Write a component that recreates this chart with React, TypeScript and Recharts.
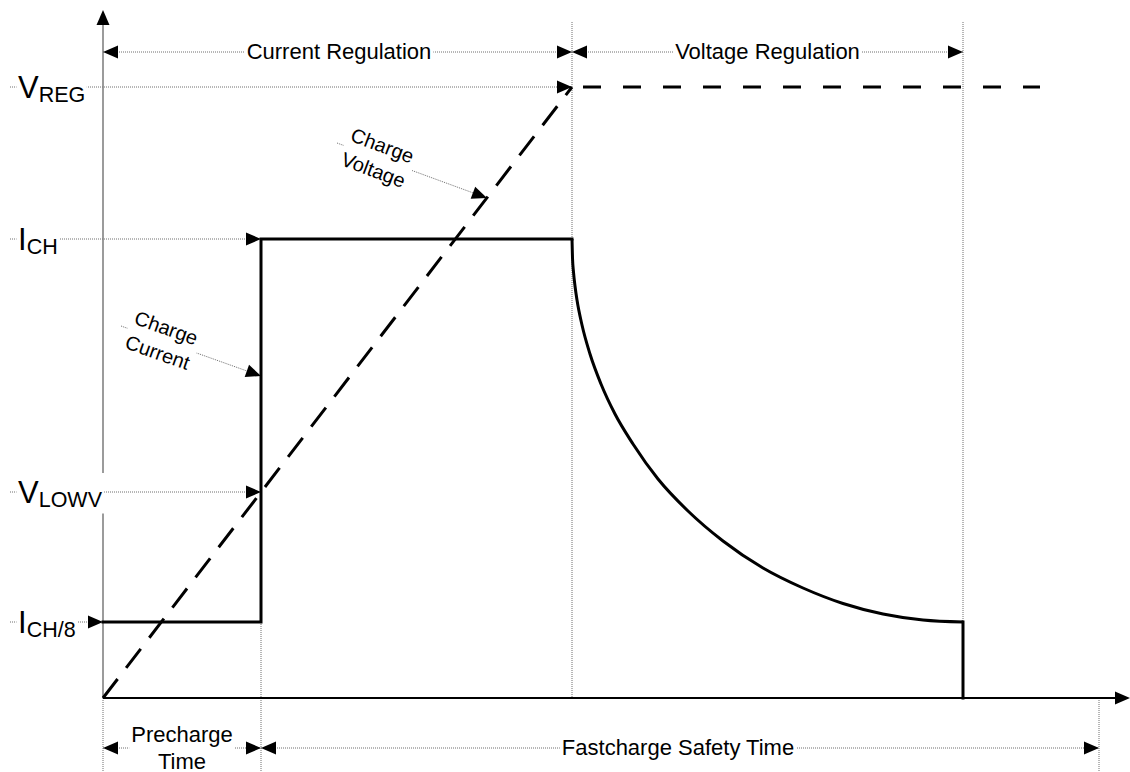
import React, { useLayoutEffect, useRef, useState } from 'react';
import { ComposedChart, Line, XAxis, YAxis, ReferenceLine, Scatter } from 'recharts';

// ---- time marks (arbitrary time units, charge starts at 0) ----
const T_PRECHARGE = 15.8;
const T_CV = 46.9;
const T_TERM = 86.0;
const T_SAFETY = 99.6;
const T_VREG_END = 93.7;

// ---- levels (arbitrary units) ----
const V_REG = 61.1;
const I_CH = 45.9;
const V_LOWV = 20.6;
const I_CH8 = 7.6;

// ---- annotation rows ----
const ROW_TOP = 64.6;
const ROW_BOTTOM = -5.0;
const GUIDE_TOP = 67.6;
const FLOOR = -7.4;
const LEVEL_GUIDE_START = -9.3;
const LEVEL_LABEL_T = -8.5;

const X_DOMAIN: [number, number] = [-10.3, 102.7];
const Y_DOMAIN: [number, number] = [-7.4, 69.8];

// ---- series ----
const currentStep = [
  { t: 0, v: I_CH8 },
  { t: T_PRECHARGE, v: I_CH8 },
  { t: T_PRECHARGE, v: I_CH },
  { t: T_CV, v: I_CH },
];
const taperTimes = [46.9, 46.95, 47.05, 47.2, 47.4, 47.9, 48.7, 49.8, 51.2, 53.0, 55.5, 58.5, 62.0, 66.0, 70.0, 74.0, 78.0, 82.0, 86.0];
const taperCurrent = [45.9, 44.0, 42.6, 41.2, 39.8, 37.3, 34.4, 31.4, 28.4, 25.4, 21.9, 18.7, 15.7, 13.0, 11.0, 9.45, 8.4, 7.8, 7.6];
const currentTaper = taperTimes.map((t, i) => ({ t, v: taperCurrent[i] }));
const currentOff = [
  { t: T_TERM, v: I_CH8 },
  { t: T_TERM, v: 0 },
];
const voltageRamp = [
  { t: 0, v: 0 },
  { t: T_CV, v: V_REG },
];
const voltageHold = [
  { t: T_CV, v: V_REG },
  { t: T_VREG_END, v: V_REG },
];

// ---- axes ----
const axisY = [{ x: 0, y: 0 }, { x: 0, y: 68 }];
const axisX = [{ x: 0, y: 0 }, { x: 101.3, y: 0 }];

// ---- dotted guides ----
const guides = [
  [{ x: 0, y: ROW_TOP }, { x: T_CV, y: ROW_TOP }],
  [{ x: T_CV, y: ROW_TOP }, { x: T_TERM, y: ROW_TOP }],
  [{ x: T_CV, y: GUIDE_TOP }, { x: T_CV, y: 0 }],
  [{ x: T_TERM, y: GUIDE_TOP }, { x: T_TERM, y: I_CH8 }],
  [{ x: T_PRECHARGE, y: I_CH8 }, { x: T_PRECHARGE, y: FLOOR }],
  [{ x: 0, y: 0 }, { x: 0, y: FLOOR }],
  [{ x: T_SAFETY, y: 0 }, { x: T_SAFETY, y: FLOOR }],
  [{ x: LEVEL_GUIDE_START, y: V_REG }, { x: T_CV, y: V_REG }],
  [{ x: LEVEL_GUIDE_START, y: I_CH }, { x: T_PRECHARGE, y: I_CH }],
  [{ x: LEVEL_GUIDE_START, y: V_LOWV }, { x: T_PRECHARGE, y: V_LOWV }],
  [{ x: LEVEL_GUIDE_START, y: I_CH8 }, { x: 0, y: I_CH8 }],
  [{ x: 1.8, y: 37.2 }, { x: T_PRECHARGE, y: 32.2 }],
  [{ x: 23.4, y: 55.5 }, { x: 38.4, y: 50.0 }],
  [{ x: 0, y: ROW_BOTTOM }, { x: T_PRECHARGE, y: ROW_BOTTOM }],
  [{ x: T_PRECHARGE, y: ROW_BOTTOM }, { x: T_SAFETY, y: ROW_BOTTOM }],
];

// ---- arrow heads ----
const arrowHeads = [
  { t: 0, v: 68.8, angle: -90 },
  { t: 102.7, v: 0, angle: 0 },
  { t: 0, v: ROW_TOP, angle: 180 },
  { t: T_CV, v: ROW_TOP, angle: 0 },
  { t: T_CV, v: ROW_TOP, angle: 180 },
  { t: T_TERM, v: ROW_TOP, angle: 0 },
  { t: T_CV, v: V_REG, angle: 0 },
  { t: T_PRECHARGE, v: I_CH, angle: 0 },
  { t: T_PRECHARGE, v: V_LOWV, angle: 0 },
  { t: 0, v: I_CH8, angle: 0 },
  { t: T_PRECHARGE, v: 32.2, angle: 19.6 },
  { t: 38.4, v: 50.0, angle: 20.5 },
  { t: 0, v: ROW_BOTTOM, angle: 180 },
  { t: T_PRECHARGE, v: ROW_BOTTOM, angle: 0 },
  { t: T_PRECHARGE, v: ROW_BOTTOM, angle: 180 },
  { t: T_SAFETY, v: ROW_BOTTOM, angle: 0 },
];

// ---- labels ----
const levelLabels = [
  { t: LEVEL_LABEL_T, v: V_REG, main: 'V', sub: 'REG' },
  { t: LEVEL_LABEL_T, v: I_CH, main: 'I', sub: 'CH' },
  { t: LEVEL_LABEL_T, v: V_LOWV, main: 'V', sub: 'LOWV' },
  { t: LEVEL_LABEL_T, v: I_CH8, main: 'I', sub: 'CH/8' },
];
const spanLabels = [
  { t: 23.6, v: ROW_TOP, lines: ['Current Regulation'] },
  { t: 66.45, v: ROW_TOP, lines: ['Voltage Regulation'] },
  { t: 7.9, v: ROW_BOTTOM, lines: ['Precharge', 'Time'] },
  { t: 57.5, v: ROW_BOTTOM, lines: ['Fastcharge Safety Time'] },
];
const calloutLabels = [
  { t: 5.9, v: 35.8, lines: ['Charge', 'Current'], angle: 19.6 },
  { t: 27.5, v: 54.05, lines: ['Charge', 'Voltage'], angle: 20.5 },
];

const FONT = '"Liberation Sans", Arial, Helvetica, sans-serif';
const DOT = '#6e6e6e';

function Boxed({ x, y, angle = 0, pad = 2, children }: any) {
  const ref = useRef<SVGGElement>(null);
  const [b, setB] = useState<any>(null);
  useLayoutEffect(() => {
    if (ref.current) {
      const bb = ref.current.getBBox();
      if (!b || Math.abs(bb.width - b.w) > 0.5 || Math.abs(bb.x - b.x) > 0.5) {
        setB({ x: bb.x, y: bb.y, w: bb.width, h: bb.height });
      }
    }
  });
  if (x == null || y == null || isNaN(x) || isNaN(y)) return null;
  return (
    <g transform={`translate(${x},${y}) rotate(${angle})`}>
      {b && <rect x={b.x - pad} y={b.y - pad} width={b.w + 2 * pad} height={b.h + 2 * pad} fill="#fff" />}
      <g ref={ref}>{children}</g>
    </g>
  );
}

const ArrowShape = (p: any) => {
  if (p.cx == null) return null;
  return (
    <path
      d="M0,0 L-15,-6.5 L-15,6.5 Z"
      transform={`translate(${p.cx},${p.cy}) rotate(${p.payload.angle})`}
      fill="#000"
    />
  );
};

const LevelShape = (p: any) => (
  <Boxed x={p.cx} y={p.cy} pad={1.5}>
    <text x={0} y={10.5} fontFamily={FONT} fontSize={31} fill="#000">
      {p.payload.main}
      <tspan fontSize={21.5} dy={4.5}>{p.payload.sub}</tspan>
    </text>
  </Boxed>
);

const SpanShape = (p: any) => {
  const lines: string[] = p.payload.lines;
  return (
    <Boxed x={p.cx} y={p.cy} pad={2}>
      {lines.map((s, i) => (
        <text key={i} x={0} y={7 + (i - (lines.length - 1) / 2) * 27} textAnchor="middle" fontFamily={FONT} fontSize={22} fill="#000">
          {s}
        </text>
      ))}
    </Boxed>
  );
};

const CalloutShape = (p: any) => {
  const lines: string[] = p.payload.lines;
  return (
    <Boxed x={p.cx} y={p.cy} angle={p.payload.angle} pad={3}>
      {lines.map((s, i) => (
        <text key={i} x={0} y={7.2 + (i - (lines.length - 1) / 2) * 26} textAnchor="middle" fontFamily={FONT} fontSize={20} fill="#000">
          {s}
        </text>
      ))}
    </Boxed>
  );
};

export default function App() {
  return (
    <div style={{ position: 'absolute', left: 0, top: 0, width: 1130, height: 772, background: '#fff' }}>
      <ComposedChart width={1130} height={772} margin={{ top: 0, right: 0, bottom: 0, left: 0 }}>
        <XAxis type="number" dataKey="t" domain={X_DOMAIN} hide allowDataOverflow />
        <YAxis type="number" dataKey="v" domain={Y_DOMAIN} hide allowDataOverflow />

        {guides.map((seg, i) => (
          <ReferenceLine key={'g' + i} segment={seg as any} stroke={DOT} strokeWidth={1} strokeDasharray="1 1" ifOverflow="visible" />
        ))}
        <ReferenceLine segment={axisY as any} stroke="#7a7a7a" strokeWidth={1.5} ifOverflow="visible" />
        <ReferenceLine segment={axisX as any} stroke="#000" strokeWidth={2} ifOverflow="visible" />

        <Line data={voltageRamp} dataKey="v" type="linear" stroke="#000" strokeWidth={3} strokeDasharray="24 14" dot={false} activeDot={false} isAnimationActive={false} />
        <Line data={voltageHold} dataKey="v" type="linear" stroke="#000" strokeWidth={3} strokeDasharray="18 22" strokeDashoffset={29} dot={false} activeDot={false} isAnimationActive={false} />

        <Line data={currentStep} dataKey="v" type="linear" stroke="#000" strokeWidth={3} strokeLinecap="square" dot={false} activeDot={false} isAnimationActive={false} />
        <Line data={currentTaper} dataKey="v" type="monotone" stroke="#000" strokeWidth={3} dot={false} activeDot={false} isAnimationActive={false} />
        <Line data={currentOff} dataKey="v" type="linear" stroke="#000" strokeWidth={3} strokeLinecap="square" dot={false} activeDot={false} isAnimationActive={false} />

        <Scatter data={levelLabels} dataKey="v" shape={LevelShape} isAnimationActive={false} />
        <Scatter data={spanLabels} dataKey="v" shape={SpanShape} isAnimationActive={false} />
        <Scatter data={calloutLabels} dataKey="v" shape={CalloutShape} isAnimationActive={false} />
        <Scatter data={arrowHeads} dataKey="v" shape={ArrowShape} isAnimationActive={false} />
      </ComposedChart>
    </div>
  );
}
